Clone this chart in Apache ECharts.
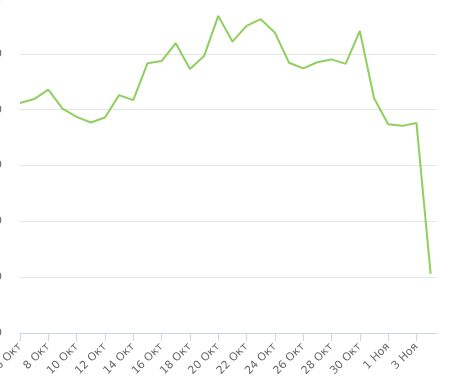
<!DOCTYPE html>
<html><head><meta charset="utf-8">
<script src="https://cdn.jsdelivr.net/npm/echarts@6/dist/echarts.min.js"></script>
<style>html,body{margin:0;padding:0;background:#fff}#c{width:450px;height:383px}</style>
</head><body><div id="c"></div>
<script>
const dayLabels = ["6 Окт","7 Окт","8 Окт","9 Окт","10 Окт","11 Окт","12 Окт","13 Окт","14 Окт","15 Окт","16 Окт","17 Окт","18 Окт","19 Окт","20 Окт","21 Окт","22 Окт","23 Окт","24 Окт","25 Окт","26 Окт","27 Окт","28 Окт","29 Окт","30 Окт","31 Окт","1 Ноя","2 Ноя","3 Ноя","4 Ноя"];
const values = [412,419,436,402,387,377,386,426,417,483,487,519,473,496,568,522,550,562,538,484,474,485,490,482,541,421,374,371,376,106];
const yTicks = [0,100,200,300,400,500,600];

const chart = echarts.init(document.getElementById('c'), null, {renderer:'canvas'});
chart.setOption({
  animation:false,
  grid:{left:20, right:13, top:-2, bottom:50, containLabel:false, outerBoundsMode:'none'},
  xAxis:{
    type:'value', min:0, max:29.45, interval:2,
    axisLine:{show:true, lineStyle:{color:'#ccd6eb', width:1}},
    axisTick:{show:true, length:8, lineStyle:{color:'#ccd6eb'}},
    splitLine:{show:false},
    axisLabel:{rotate:45, margin:12, color:'#666666', fontFamily:'DejaVu Sans', fontSize:11,
      showMaxLabel:false, hideOverlap:false,
      formatter:v=> dayLabels[Math.round(v)] || ''}
  },
  yAxis:{
    type:'value', min:yTicks[0], max:yTicks[yTicks.length-1], interval:yTicks[1]-yTicks[0],
    axisLine:{show:false}, axisTick:{show:false},
    splitLine:{lineStyle:{color:'#e6e6e6', width:1}},
    axisLabel:{margin:18, color:'#666666', fontFamily:'DejaVu Sans', fontSize:11}
  },
  series:[{
    type:'line', data: values.map((v,i)=>[i,v]), showSymbol:false, symbol:'none',
    lineStyle:{color:'#8fcf5e', width:2}, itemStyle:{color:'#8fcf5e'}
  }]
});
</script></body></html>
